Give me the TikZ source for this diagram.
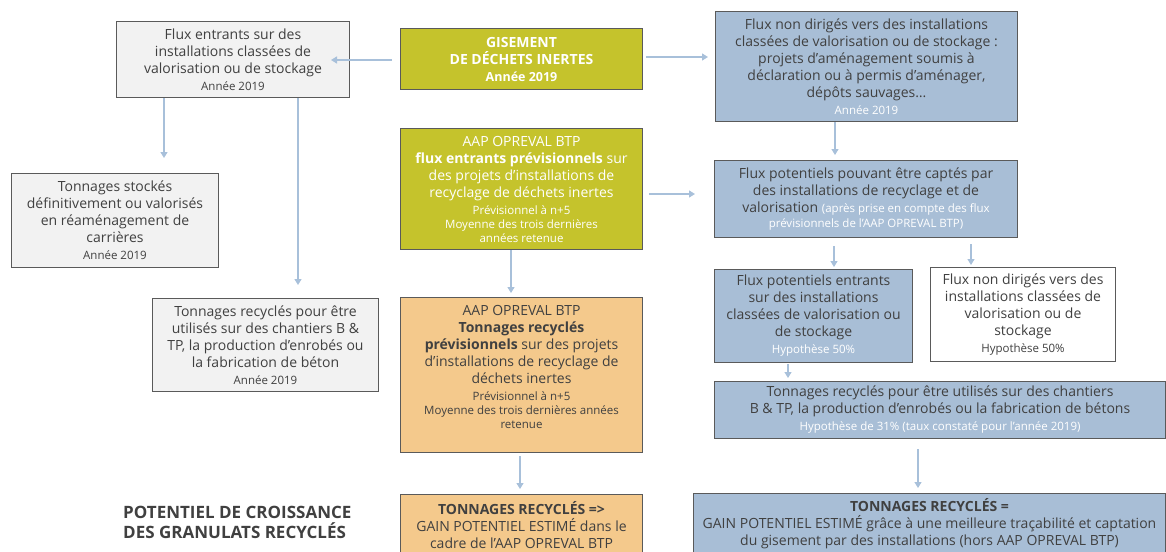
\documentclass[tikz,border=0pt]{standalone}
\usepackage{fontspec}
\setmainfont{Open Sans}
\usetikzlibrary{arrows.meta}
\definecolor{gre}{RGB}{197,195,44}
\definecolor{ora}{RGB}{244,201,140}
\definecolor{blu}{RGB}{168,190,214}
\definecolor{lgr}{RGB}{242,242,242}
\definecolor{arc}{RGB}{168,192,218}
\definecolor{bord}{RGB}{90,90,90}
\definecolor{tx}{RGB}{64,64,64}
\newcommand\sm[1]{{\fontsize{11.5}{13}\selectfont #1}}
\newcommand\wsm[1]{{\fontsize{11.5}{13}\selectfont\color{white} #1}}
\begin{document}
\begin{tikzpicture}[x=1pt,y=-1pt,
  bx/.style={draw=bord, line width=1pt, inner sep=2pt, align=center, anchor=north west,
    text=tx, font=\fontsize{14}{17}\selectfont},
  arr/.style={draw=arc, line width=1.3pt, -{Triangle[width=7pt,length=6pt]}}]
\useasboundingbox (0,0) rectangle (1166,551);
\clip (0,0) rectangle (1166,551);
% boxes
\node[bx, fill=lgr, minimum width=233pt, minimum height=76pt] (A) at (116,21)
  {Flux entrants sur des\\installations classées de\\valorisation ou de stockage\\\sm{Année 2019}};
\node[bx, fill=gre, text=white, minimum width=242pt, minimum height=61pt, font=\fontsize{14}{17}\selectfont\bfseries] (B) at (400,28)
  {GISEMENT\\DE DÉCHETS INERTES\\{\fontsize{12.5}{15}\selectfont Année 2019}};
\node[bx, fill=blu, minimum width=302pt, minimum height=110pt] (C) at (715,11)
  {Flux non dirigés vers des installations\\classées de valorisation ou de stockage :\\projets d’aménagement soumis à\\déclaration ou à permis d’aménager,\\dépôts sauvages…\\\wsm{Année 2019}};
\node[bx, fill=gre, text=white, minimum width=242pt, minimum height=121pt] (D) at (400,128)
  {AAP OPREVAL BTP\\\textbf{flux entrants prévisionnels} sur\\des projets d’installations de\\recyclage de déchets inertes\\\sm{Prévisionnel à n+5}\\[-3pt]\sm{Moyenne des trois dernières}\\[-3pt]\sm{années retenue}};
\node[bx, fill=blu, minimum width=303pt, minimum height=77pt] (E) at (714,160)
  {Flux potentiels pouvant être captés par\\des installations de recyclage et de\\valorisation \wsm{(après prise en compte des flux}\\[-2pt]\wsm{prévisionnels de l’AAP OPREVAL BTP)}};
\node[bx, fill=blu, minimum width=198pt, minimum height=93pt] (F) at (714,269)
  {Flux potentiels entrants\\sur des installations\\classées de valorisation ou\\de stockage\\\wsm{Hypothèse 50\%}};
\node[bx, fill=white, minimum width=185pt, minimum height=94pt] (G) at (930,267)
  {Flux non dirigés vers des\\installations classées de\\valorisation ou de\\stockage\\\sm{Hypothèse 50\%}};
\node[bx, fill=blu, minimum width=451pt, minimum height=57pt] (H) at (714,381)
  {Tonnages recyclés pour être utilisés sur des chantiers\\B \& TP, la production d’enrobés ou la fabrication de bétons\\\wsm{Hypothèse de 31\% (taux constaté pour l’année 2019)}};
\node[bx, fill=blu, minimum width=472pt, minimum height=61pt] (I) at (693,493)
  {\textbf{TONNAGES RECYCLÉS =}\\GAIN POTENTIEL ESTIMÉ grâce à une meilleure traçabilité et captation\\du gisement par des installations (hors AAP OPREVAL BTP)};
\node[bx, fill=ora, minimum width=242pt, minimum height=61pt] (J) at (400,494)
  {\textbf{TONNAGES RECYCLÉS =>}\\GAIN POTENTIEL ESTIMÉ dans le\\cadre de l’AAP OPREVAL BTP};
\node[bx, fill=ora, minimum width=242pt, minimum height=155pt] (K) at (400,297)
  {AAP OPREVAL BTP\\\textbf{Tonnages recyclés}\\\textbf{prévisionnels} sur des projets\\d’installations de recyclage de\\déchets inertes\\\sm{Prévisionnel à n+5}\\[-3pt]\sm{Moyenne des trois dernières années}\\[-3pt]\sm{retenue}\\\mbox{}};
\node[bx, fill=lgr, minimum width=207pt, minimum height=94pt] (L) at (11,173)
  {Tonnages stockés\\définitivement ou valorisés\\en réaménagement de\\carrières\\\sm{Année 2019}};
\node[bx, fill=lgr, minimum width=226pt, minimum height=93pt] (M) at (152,298)
  {Tonnages recyclés pour être\\utilisés sur des chantiers B \&\\TP, la production d’enrobés ou\\la fabrication de béton\\\sm{Année 2019}};
\node[anchor=north west, inner sep=0pt, align=left, text=tx, font=\fontsize{17}{20}\selectfont\bfseries] (T) at (123,506)
  {POTENTIEL DE CROISSANCE\\DES GRANULATS RECYCLÉS};
% guide coordinates
\coordinate (y60) at (0,60);
\coordinate (y57) at (0,57);
\coordinate (y194) at (0,194);
\coordinate (x835) at (835,0);
\coordinate (x511) at (511,0);
\coordinate (x834) at (834,0);
\coordinate (x971) at (971,0);
\coordinate (x788) at (788,0);
\coordinate (x918) at (918,0);
\coordinate (x520) at (520,0);
\coordinate (x164) at (164,0);
\coordinate (x298) at (298,0);
% connectors
\draw[arr, shorten <=8pt, shorten >=-19pt] (B.west |- y60) -- (A.east |- y60);
\draw[arr, shorten <=3pt, shorten >=7pt] (B.east |- y57) -- (C.west |- y57);
\draw[arr, shorten >=5pt] (C.south -| x835) -- (E.north -| x835);
\draw[arr, shorten <=6pt, shorten >=19pt] (D.east |- y194) -- (E.west |- y194);
\draw[arr, shorten >=4pt] (D.south -| x511) -- (K.north -| x511);
\draw[arr, shorten <=8pt, shorten >=2pt] (E.south -| x834) -- (F.north -| x834);
\draw[arr, shorten <=6pt, shorten >=2pt] (E.south -| x971) -- (G.north -| x971);
\draw[arr, shorten <=1pt, shorten >=3pt] (F.south -| x788) -- (H.north -| x788);
\draw[arr, shorten <=10pt, shorten >=5pt] (H.south -| x918) -- (I.north -| x918);
\draw[arr, shorten <=3pt, shorten >=5pt] (K.south -| x520) -- (J.north -| x520);
\draw[arr, shorten >=15pt] (A.south -| x164) -- (L.north -| x164);
\draw[arr, shorten >=13pt] (A.south -| x298) -- (M.north -| x298);
\end{tikzpicture}
\end{document}
